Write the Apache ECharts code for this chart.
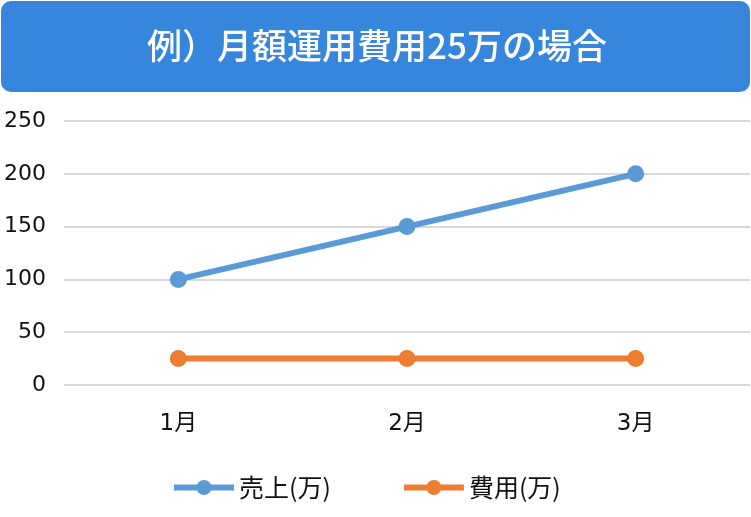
<!DOCTYPE html>
<html><head><meta charset="utf-8">
<script src="https://cdn.jsdelivr.net/npm/echarts@6/dist/echarts.min.js"></script>
<style>html,body{margin:0;padding:0;background:#fff}#c{width:751px;height:517px}</style>
</head><body><div id="c"></div>
<script>
const titleText = '例）月額運用費用25万の場合';
const categories = ['1月', '2月', '3月'];
const salesName = '売上(万)';
const salesValues = [100, 150, 200];
const costName = '費用(万)';
const costValues = [25, 25, 25];
const yTicks = [0, 50, 100, 150, 200, 250];

const font = '"Noto Sans CJK JP", "Noto Sans", sans-serif';
const numFont = '"DejaVu Sans", "Noto Sans CJK JP", sans-serif';
const chart = echarts.init(document.getElementById('c'));
chart.setOption({
  animation: false,
  backgroundColor: '#fff',
  textStyle: { fontFamily: font },
  graphic: [{
    type: 'rect', left: 1, top: 1,
    shape: { width: 749, height: 91, r: 10 },
    style: { fill: '#3786DE' }
  }, {
    type: 'text', x: 377, y: 46,
    style: { text: titleText, fill: '#fff', font: '500 35px ' + font, align: 'center', verticalAlign: 'middle' }
  }],
  grid: { left: 64, right: 1, top: 121, height: 264, containLabel: false },
  xAxis: {
    type: 'category', data: categories, boundaryGap: true,
    axisLine: { show: false }, axisTick: { show: false },
    axisLabel: { color: '#111', fontSize: 23, margin: 28, fontFamily: numFont }
  },
  yAxis: {
    type: 'value', min: yTicks[0], max: yTicks[yTicks.length - 1], interval: 50,
    axisLine: { show: false }, axisTick: { show: false },
    axisLabel: { color: '#111', fontSize: 22, margin: 18, fontFamily: numFont },
    splitLine: { lineStyle: { color: '#D9D9D9', width: 2 } }
  },
  legend: {
    top: 470, left: 166, itemWidth: 60, itemHeight: 19, itemGap: 70,
    lineStyle: { width: 6 },
    textStyle: { color: '#111', fontSize: 25, fontFamily: font },
    data: [salesName, costName]
  },
  series: [{
    name: salesName, type: 'line', data: salesValues,
    symbol: 'circle', symbolSize: 17,
    lineStyle: { color: '#5B9BD5', width: 6 },
    itemStyle: { color: '#5B9BD5' }
  }, {
    name: costName, type: 'line', data: costValues,
    symbol: 'circle', symbolSize: 17,
    lineStyle: { color: '#ED7D31', width: 6 },
    itemStyle: { color: '#ED7D31' }
  }]
});
</script></body></html>
